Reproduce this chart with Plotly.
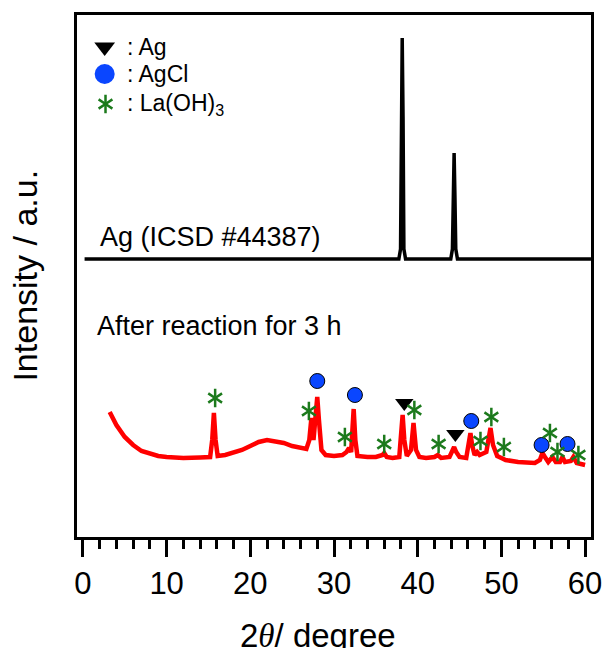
import plotly.graph_objects as go

# ---------------- data ----------------
# Reference pattern Ag (ICSD #44387), arbitrary intensity (offset)
ref_2theta = [0.2, 37.75, 37.95, 38.05, 38.15, 38.25, 38.35, 38.55,
              43.95, 44.15, 44.25, 44.35, 44.45, 44.55, 44.75, 60.7]
ref_int = [278, 278, 288, 420, 499, 420, 288, 278,
           278, 288, 340, 384, 340, 288, 278, 278]

# Measured pattern after reaction for 3 h
obs_2theta = [3.2, 3.6, 4.0, 5.0, 6.0, 7.0, 8.0, 9.0, 10.0, 12.0, 14.0, 15.2,
              15.45, 15.65, 15.85, 16.1, 17.0, 18.0, 19.0, 20.0, 21.0, 22.0,
              23.0, 24.0, 25.0, 26.0, 26.7, 27.05, 27.3, 27.55, 27.8, 28.0,
              28.2, 28.5, 29.0, 30.0, 31.0, 31.5, 31.8, 32.05, 32.2, 32.35,
              32.55, 32.8, 34.0, 35.0, 35.8, 36.0, 36.3, 37.0, 37.8, 38.0,
              38.2, 38.4, 38.7, 39.2, 39.5, 39.8, 40.2, 41.0, 42.0, 42.4,
              42.8, 43.8, 44.1, 44.35, 44.6, 45.0, 45.8, 46.1, 46.3, 46.5,
              46.8, 47.1, 47.4, 48.2, 48.5, 48.7, 49.0, 49.5, 50.0, 50.5,
              52.0, 54.0, 54.6, 54.9, 55.2, 55.6, 56.1, 56.5, 57.0, 57.3,
              57.6, 58.3, 58.6, 59.0, 60.0]
obs_int = [125, 118, 112, 100, 92, 86, 83, 81, 80, 79, 79.5, 80,
           97, 124, 97, 81, 82, 84, 87, 91, 95, 97,
           96, 94, 91, 89, 88, 97, 119, 97, 117, 140,
           117, 87, 82, 81, 82, 85, 89, 85, 107, 128,
           97, 81, 80, 80, 82, 84, 80, 79, 80, 97,
           122, 97, 81, 87, 114, 87, 80, 79, 80, 82,
           79, 80, 85, 90, 85, 80, 79, 92, 104, 92,
           82, 85, 82, 85, 102, 109, 92, 81, 79, 77,
           75, 74, 77, 84, 80, 75, 80, 75, 75, 80,
           75, 76, 80, 74, 72]

# Phase markers (2theta, intensity)
ag_x = [38.4, 44.5]
ag_y = [134, 103]
agcl_x = [28.0, 32.5, 46.4, 54.8, 57.9]
agcl_y = [156, 142, 116, 92, 93]
la_x = [15.8, 27.0, 31.3, 36.0, 39.6, 42.5, 47.5, 48.8, 50.3, 55.8, 56.7, 59.2]
la_y = [139, 126, 100, 93, 127, 93, 96, 120, 90, 104, 85, 82]

legend_x = [2.6, 2.6, 2.7]
legend_y = [490, 463, 433]
legend_labels = [": Ag", ": AgCl", ": La(OH)<sub>3</sub>"]

ref_label = "Ag (ICSD #44387)"
obs_label = "After reaction for 3 h"
x_title = "2<span style=\"font-family:'Liberation Serif', 'DejaVu Serif', serif\"><i>θ</i></span>/ degree"
y_title = "Intensity / a.u."
x_ticks = [0, 10, 20, 30, 40, 50, 60]

GREEN = "#1C7A1C"
BLUE = "#0A46FF"
FONT = "Liberation Sans, Arial, sans-serif"

fig = go.Figure()

fig.add_trace(go.Scatter(x=ref_2theta, y=ref_int, mode="lines",
                         line=dict(color="black", width=3.5), hoverinfo="skip"))
fig.add_trace(go.Scatter(x=obs_2theta, y=obs_int, mode="lines",
                         line=dict(color="#FF0000", width=4.5), hoverinfo="skip"))

# markers on peaks
fig.add_trace(go.Scatter(x=ag_x, y=ag_y, mode="markers",
                         marker=dict(symbol="triangle-down", size=16, color="black",
                                     line=dict(width=0))))
fig.add_trace(go.Scatter(x=agcl_x, y=agcl_y, mode="markers",
                         marker=dict(symbol="circle", size=15, color=BLUE,
                                     line=dict(color="black", width=1))))
for sym in ["y-up-open", "y-down-open"]:
    fig.add_trace(go.Scatter(x=la_x, y=la_y, mode="markers",
                             marker=dict(symbol=sym, size=11.5, color=GREEN,
                                         line=dict(color=GREEN, width=2.5))))

# legend symbols
fig.add_trace(go.Scatter(x=[legend_x[0]], y=[legend_y[0]], mode="markers",
                         marker=dict(symbol="triangle-down", size=18, color="black",
                                     line=dict(width=0))))
fig.add_trace(go.Scatter(x=[legend_x[1]], y=[legend_y[1]], mode="markers",
                         marker=dict(symbol="circle", size=20, color=BLUE,
                                     line=dict(width=0))))
for sym in ["y-up-open", "y-down-open"]:
    fig.add_trace(go.Scatter(x=[legend_x[2]], y=[legend_y[2]], mode="markers",
                             marker=dict(symbol=sym, size=11.5, color=GREEN,
                                         line=dict(color=GREEN, width=2.5))))

annotations = []
for ly, lt in zip(legend_y, legend_labels):
    annotations.append(dict(x=5.0, y=ly, text=lt, showarrow=False,
                            xanchor="left", yanchor="middle",
                            font=dict(size=23, color="black", family=FONT)))
annotations.append(dict(x=1.75, y=300, text=ref_label, showarrow=False,
                        xanchor="left", yanchor="middle",
                        font=dict(size=27, color="black", family=FONT)))
annotations.append(dict(x=1.4, y=211, text=obs_label, showarrow=False,
                        xanchor="left", yanchor="middle",
                        font=dict(size=27, color="black", family=FONT)))
annotations.append(dict(x=0.5, y=-0.150, xref="paper", yref="paper",
                        text=x_title, showarrow=False,
                        xanchor="center", yanchor="top", xshift=-16,
                        font=dict(size=33, color="black", family=FONT)))
annotations.append(dict(x=-0.102, y=0.5, xref="paper", yref="paper",
                        text=y_title, showarrow=False, textangle=-90,
                        xanchor="center", yanchor="middle",
                        font=dict(size=34, color="black", family=FONT)))

fig.update_layout(
    width=614, height=648,
    margin=dict(l=77, r=15, t=15, b=111),
    paper_bgcolor="white", plot_bgcolor="white",
    showlegend=False,
    annotations=annotations,
    xaxis=dict(range=[-0.706, 60.706], showgrid=False, zeroline=False,
               showline=True, mirror=True, linecolor="black", linewidth=3,
               tickmode="array", tickvals=x_ticks, ticks="outside",
               ticklen=17, tickwidth=3, tickcolor="black",
               tickfont=dict(size=31, color="black", family=FONT),
               minor=dict(dtick=2, tick0=0, ticks="outside", ticklen=9,
                          tickwidth=2.5, tickcolor="black", showgrid=False)),
    yaxis=dict(range=[0, 522], showgrid=False, zeroline=False,
               showline=True, mirror=True, linecolor="black", linewidth=3,
               showticklabels=False, ticks=""),
)

fig.write_html("out.html")
